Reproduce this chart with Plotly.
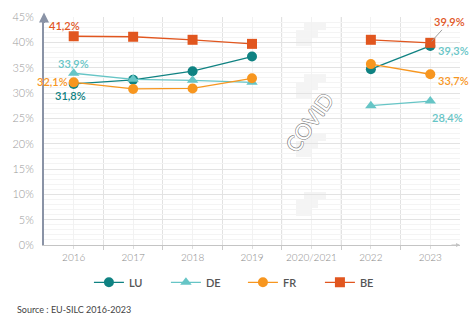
import plotly.graph_objects as go

# Categories (year slots); 2020/2021 has no data
years = ["2016", "2017", "2018", "2019", "2020/2021", "2022", "2023"]

# Share (%) by country
lu = [31.8, 32.6, 34.3, 37.2, None, 34.7, 39.3]
de = [33.9, 32.7, 32.5, 32.1, None, 27.5, 28.4]
fr = [32.1, 30.8, 30.9, 32.9, None, 35.7, 33.7]
be = [41.2, 41.1, 40.5, 39.7, None, 40.5, 39.9]

y_ticks = [0, 5, 10, 15, 20, 25, 30, 35, 40, 45]

C_LU = "#0f8282"
C_DE = "#66c5c6"
C_FR = "#f7961f"
C_BE = "#e1561f"

FONT = "Lato"
xi = list(range(len(years)))


def pct(v):
    return f"{v:.1f}".replace(".", ",") + "%"


fig = go.Figure()

series = [
    ("LU", lu, C_LU, "circle"),
    ("DE", de, C_DE, "triangle-up"),
    ("FR", fr, C_FR, "circle"),
    ("BE", be, C_BE, "square"),
]
for name, vals, col, sym in series:
    fig.add_trace(go.Scatter(
        x=xi, y=vals, name=name, mode="lines+markers",
        line=dict(color=col, width=1.3),
        marker=dict(color=col, size=10, symbol=sym),
        connectgaps=False,
    ))

shapes = []
# COVID band: blank column over the 2020/2021 slot
shapes.append(dict(type="rect", xref="x", yref="y", x0=3.5, x1=4.5, y0=0, y1=45,
                   fillcolor="white", line=dict(width=0), layer="below"))


# faint stepped blocks inside the band (pixel-ish pattern)
def px2x(px):
    return (px - 44) / 59.43 - 0.5


def px2y(py):
    return (245 - py) / 5.07


blocks = []
for top in [22, 74, 133, 192]:
    blocks += [
        (304, 326, top, top + 8),
        (296, 318, top + 8, top + 16),
        (296, 311, top + 16, top + 24),
    ]
for bx0, bx1, by0, by1 in blocks:
    shapes.append(dict(type="rect", xref="x", yref="y",
                       x0=px2x(bx0), x1=px2x(bx1), y0=px2y(by1), y1=px2y(by0),
                       fillcolor="#f4f4f4", line=dict(width=0), layer="below"))
for xb in [3.5, 4.5]:
    shapes.append(dict(type="line", xref="x", yref="y", x0=xb, x1=xb, y0=0, y1=45,
                       line=dict(color="#e4e4e4", width=1), layer="below"))

annotations = []
# y axis arrow (top) and x axis arrow (right)
annotations.append(dict(xref="paper", yref="paper", x=0, y=1.02, ax=0, ay=12,
                        showarrow=True, arrowhead=2,
                        arrowsize=1, arrowwidth=2, arrowcolor="#8a93a6", text=""))
annotations.append(dict(xref="paper", yref="paper", x=1.0, y=0, ax=-10, ay=0,
                        showarrow=True, arrowhead=2,
                        arrowsize=0.8, arrowwidth=1, arrowcolor="#c4c4c4", text=""))

# COVID label, drawn as hollow lettering
outline = "0.7px 0 0 #8c8c8c, -0.7px 0 0 #8c8c8c, 0 0.7px 0 #8c8c8c, 0 -0.7px 0 #8c8c8c"
annotations.append(dict(xref="x", yref="y", x=4, y=24.3, xshift=-2, text="COVID", showarrow=False,
                        textangle=-55,
                        font=dict(family=FONT, size=21, color="white", weight=400, shadow=outline)))

# value labels
lab_font = dict(family=FONT, size=11, weight=600)
annotations += [
    dict(x=0, y=be[0], text=pct(be[0]), xshift=-9, yshift=11, font=dict(**lab_font, color=C_BE)),
    dict(x=0, y=de[0], text=pct(de[0]), xshift=0, yshift=10, font=dict(**lab_font, color=C_DE)),
    dict(x=0, y=fr[0], text=pct(fr[0]), xshift=-21, yshift=1, font=dict(**lab_font, color=C_FR)),
    dict(x=0, y=lu[0], text=pct(lu[0]), xshift=-3, yshift=-12, font=dict(**lab_font, color=C_LU)),
    dict(x=6, y=lu[6], text=pct(lu[6]), xshift=23, yshift=-5, font=dict(**lab_font, color=C_DE)),
    dict(x=6, y=fr[6], text=pct(fr[6]), xshift=23, yshift=-6, font=dict(**lab_font, color=C_FR)),
    dict(x=6, y=de[6], text=pct(de[6]), xshift=17, yshift=-16, font=dict(**lab_font, color=C_DE)),
]
for a in annotations[-7:]:
    a.update(xref="x", yref="y", showarrow=False)
annotations.append(dict(xref="x", yref="y", x=6, y=be[6], text=pct(be[6]), showarrow=True,
                        ax=19, ay=-21, arrowhead=0, arrowwidth=1, arrowcolor="#a0a0a0",
                        standoff=2, font=dict(**lab_font, color=C_BE)))

annotations.append(dict(xref="paper", yref="paper", x=-0.07, y=-0.285, xanchor="left",
                        yanchor="middle",
                        text="Source : EU-SILC 2016-2023", showarrow=False,
                        font=dict(family=FONT, size=9, color="#444444")))

fig.update_layout(
    width=473, height=322,
    margin=dict(l=44, r=13, t=17, b=77, autoexpand=False),
    plot_bgcolor="white", paper_bgcolor="white",
    showlegend=True,
    legend=dict(orientation="h", x=0.108, xanchor="left", y=-0.1, yanchor="top",
                font=dict(family=FONT, size=11, color="#555555", weight=600),
                entrywidth=32, itemwidth=30),
    shapes=shapes,
    annotations=annotations,
    font=dict(family=FONT),
)

fig.update_xaxes(
    range=[-0.5, 6.5], tickvals=xi, ticktext=years,
    showgrid=True, gridcolor="#f2f2f2", gridwidth=1,
    minor=dict(tickvals=[0.5, 1.5, 2.5, 3.5, 4.5, 5.5], showgrid=True,
               gridcolor="#e2e2e2", gridwidth=1, ticks="outside", ticklen=4, tickcolor="#cccccc"),
    ticks="outside", ticklen=3, tickcolor="#dddddd",
    showline=True, linecolor="#c4c4c4", linewidth=1,
    tickfont=dict(family=FONT, size=10, color="#888888", weight=300),
    zeroline=False, fixedrange=True,
)
fig.update_yaxes(
    range=[0, 45], tickvals=y_ticks, ticktext=[f"{v}%" for v in y_ticks],
    showgrid=True, gridcolor="#e3e3e3", gridwidth=1,
    minor=dict(dtick=1, showgrid=True, gridcolor="#f4f4f4", gridwidth=1),
    showline=True, linecolor="#8a93a6", linewidth=2,
    ticks="", ticklabelstandoff=6,
    tickfont=dict(family=FONT, size=11, color="#9a9a9a", weight=300),
    zeroline=False, fixedrange=True,
)

fig.write_html("out.html")
